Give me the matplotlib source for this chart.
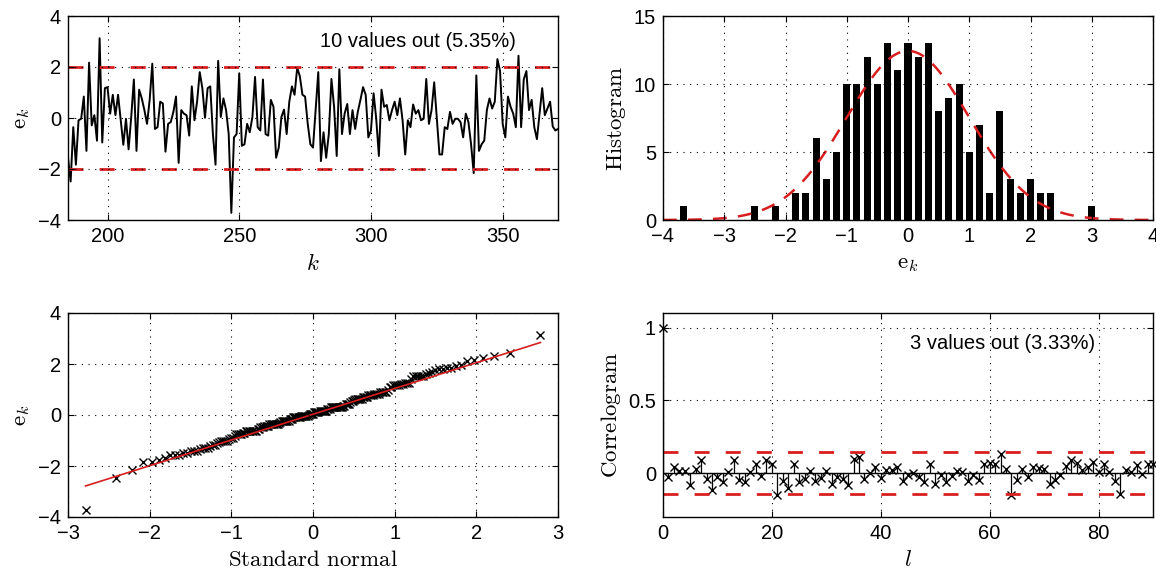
import numpy as np
import matplotlib
matplotlib.use('Agg')
import matplotlib.pyplot as plt
from statistics import NormalDist

plt.rcParams['font.family'] = ['Liberation Sans', 'DejaVu Sans']
plt.rcParams['mathtext.fontset'] = 'cm'
plt.rcParams['axes.unicode_minus'] = True

# residuals e_k, k = 185 .. 371
e = [-1.56, -2.49, -0.36, -1.83, -0.09, -0.03, 0.84, -1.29, 2.17, -0.29,
     0.11, -0.89, 3.13, -0.96, 1.17, 1.21, 0.17, 0.91, 0.11, 0.91,
     -0.09, -1.05, -0.03, -1.23, 0.04, 1.51, -1.29, 1.11, 0.77, 0.31,
     -0.23, 0.71, 2.13, -0.43, -0.36, 0.64, 0.57, -1.32, -0.23, -0.16,
     0.24, 0.84, -1.76, 0.31, 0.17, 0.11, -0.69, 1.24, -0.09, 0.64,
     1.80, 1.17, 0.01, 1.17, 1.24, -0.63, -1.83, 2.24, 0.04, 0.77,
     0.31, -0.63, -3.72, -0.76, -0.63, 1.75, -1.09, -1.03, -0.23, -0.56,
     0.04, 1.61, -0.36, -0.49, 1.51, -0.63, -0.69, 0.71, 0.44, -1.56,
     -1.16, 0.04, 0.33, -0.63, 0.64, 1.24, 0.91, 1.97, 1.64,
     0.91, 0.84, -0.23, -1.03, -1.16, 0.31, 1.80, -1.69, -0.56, -1.56,
     -0.63, 1.53, 0.44, -1.49, 1.91, -0.63, 0.17, 0.55, -0.63, 0.31,
     -0.43, 0.24, 0.71, 1.21, 0.91, -0.76, -0.49, 0.97, -0.03, -1.49,
     1.11, 0.44, 0.51, -0.09, 0.31, 0.64, 0.11, 0.77, -0.09, -1.43,
     -0.09, -0.36, 0.53, 0.17, 0.31, -0.09, -0.03, 1.53, -0.23, 0.31,
     1.40, -0.03, -1.43, -1.43, -0.36, -0.43, 0.24, -0.23, -0.03, -0.03,
     -0.16, -0.76, 0.17, -0.16, -1.03, -2.16, 1.67, -1.29, -1.03, -0.89,
     0.31, 0.77, 0.37, 0.64, 2.31, 1.84, -0.23, -0.76, 0.84, 0.44,
     0.17, -0.36, 2.44, -0.36, 1.51, 1.84, 0.31, 0.71, -0.36, -0.83,
     0.17, 1.17, 0.11, 0.37, 0.64, -0.33, -0.49, -0.43]
k_start = 185
e_bound = 2.0
text_top = '10 values out (5.35%)'

# histogram (bin centres k/6)
hist_idx = list(range(-22, 19))
hist_counts = [1, 0, 0, 0, 0, 0, 0, 1, 0, 1, 0, 2, 2, 6, 3, 5, 10, 10, 12, 10,
               13, 11, 13, 12, 13, 8, 9, 10, 5, 7, 2, 8, 3, 2, 3, 2, 2, 0, 0, 0, 1]
bin_w = 1 / 6
fit_mu, fit_sigma = 0.0, 1.0

# qq reference line
qq_slope, qq_icpt = 1.01, 0.03

# correlogram, lags 0..90
acf = [1.0, -0.025, 0.044, 0.014, 0.014, -0.083, 0.032, 0.089, -0.037, -0.117,
       -0.025, -0.06, 0.009, 0.089, -0.048, -0.06, 0.009, 0.062, -0.018, 0.089,
       0.067, -0.151, -0.055, -0.099, 0.062, -0.06, -0.039, 0.016, -0.055, -0.03,
       0.014, -0.071, -0.025, -0.037, -0.083, 0.096, 0.112, -0.037, 0.002, 0.044,
       -0.03, 0.021, 0.021, 0.044, -0.055, -0.014, 0.002, -0.025, -0.06, 0.067,
       -0.071, -0.014, -0.06, -0.021, 0.016, 0.009, -0.053, -0.014, -0.048, 0.062,
       0.073, 0.067, 0.135, 0.032, -0.151, -0.044, 0.032, -0.025, 0.044, 0.037,
       0.032, -0.071, -0.044, -0.009, 0.048, 0.089, 0.071, 0.021, 0.044, 0.078,
       0.009, 0.067, 0.009, -0.053, -0.14, 0.025, 0.009, 0.055, -0.002, 0.067,
       0.062]
acf_bound = 0.143
text_bot = '3 values out (3.33%)'

RED = '#d81e1e'
grid_kw = dict(color='black', linestyle=(0, (1, 5)), linewidth=0.8)
LAB = 16.5
TICK = 14.5

fig = plt.figure(figsize=(11.56, 5.77), dpi=100)
W, H = 1156, 577


def add_ax(l, t, r, b):
    return fig.add_axes([l / W, 1 - b / H, (r - l) / W, (b - t) / H])


def style(ax):
    ax.grid(True, **grid_kw)
    ax.set_axisbelow(False)
    ax.tick_params(direction='in', top=True, right=True, length=4,
                   labelsize=TICK, pad=5)
    for s in ax.spines.values():
        s.set_linewidth(1.0)


ax1 = add_ax(68, 16, 558, 220)
ax2 = add_ax(663, 16, 1153, 220)
ax3 = add_ax(68, 313, 558, 517)
ax4 = add_ax(663, 313, 1153, 517)

# time series
k = np.arange(k_start, k_start + len(e))
ax1.plot(k, e, color='black', lw=1.4)
for yb in (e_bound, -e_bound):
    ax1.axhline(yb, color=RED, lw=2, dashes=(5.4, 5.8))
ax1.set_xlim(185, 371)
ax1.set_ylim(-4, 4)
ax1.set_xticks([200, 250, 300, 350])
ax1.set_yticks([-4, -2, 0, 2, 4])
ax1.text(318, 3.0, text_top, ha='center', va='center', fontsize=TICK)
ax1.set_xlabel(r'$k$', fontsize=LAB)
ax1.set_ylabel(r'$\mathrm{e}_k$', fontsize=LAB)
style(ax1)

# histogram
centers = np.array(hist_idx) * bin_w
ax2.bar(centers, hist_counts, width=0.115, color='black')
xs = np.linspace(-4, 4, 300)
pdf = np.exp(-0.5 * ((xs - fit_mu) / fit_sigma) ** 2) / (fit_sigma * np.sqrt(2 * np.pi))
ax2.plot(xs, pdf * sum(hist_counts) * bin_w, color=RED, lw=1.8, dashes=(5.5, 4.5))
ax2.set_xlim(-4, 4)
ax2.set_ylim(0, 15)
ax2.set_xticks(range(-4, 5))
ax2.set_yticks([0, 5, 10, 15])
ax2.set_xlabel(r'$\mathrm{e}_k$', fontsize=LAB)
ax2.set_ylabel(r'$\mathrm{Histogram}$', fontsize=LAB)
style(ax2)

# normal probability plot
n = len(e)
q = np.array([NormalDist().inv_cdf((i + 0.5) / n) for i in range(n)])
ax3.plot(q, np.sort(e), 'x', color='black', ms=6, mew=1.0)
ax3.plot([q[0], q[-1]], [qq_icpt + qq_slope * q[0], qq_icpt + qq_slope * q[-1]],
         color=RED, lw=1.2)
ax3.set_xlim(-3, 3)
ax3.set_ylim(-4, 4)
ax3.set_xticks(range(-3, 4))
ax3.set_yticks([-4, -2, 0, 2, 4])
ax3.set_xlabel(r'$\mathrm{Standard\ normal}$', fontsize=LAB)
ax3.set_ylabel(r'$\mathrm{e}_k$', fontsize=LAB)
style(ax3)

# correlogram
lags = np.arange(len(acf))
ax4.vlines(lags, 0, acf, color='black', lw=0.9)
ax4.axhline(0, color='black', lw=1.0)
ax4.plot(lags, acf, 'x', color='black', ms=5.5, mew=1.0, clip_on=False)
for yb in (acf_bound, -acf_bound):
    ax4.axhline(yb, color=RED, lw=2, dashes=(5.4, 5.8))
ax4.text(62.3, 0.89, text_bot, ha='center', va='center', fontsize=TICK)
ax4.set_xlim(0, 90)
ax4.set_ylim(-0.3, 1.1)
ax4.set_xticks([0, 20, 40, 60, 80])
ax4.set_yticks([0, 0.5, 1])
ax4.set_yticklabels(['0', '0.5', '1'])
ax4.set_xlabel(r'$l$', fontsize=LAB)
ax4.set_ylabel(r'$\mathrm{Correlogram}$', fontsize=LAB)
style(ax4)

fig.savefig('out.png', dpi=100)
